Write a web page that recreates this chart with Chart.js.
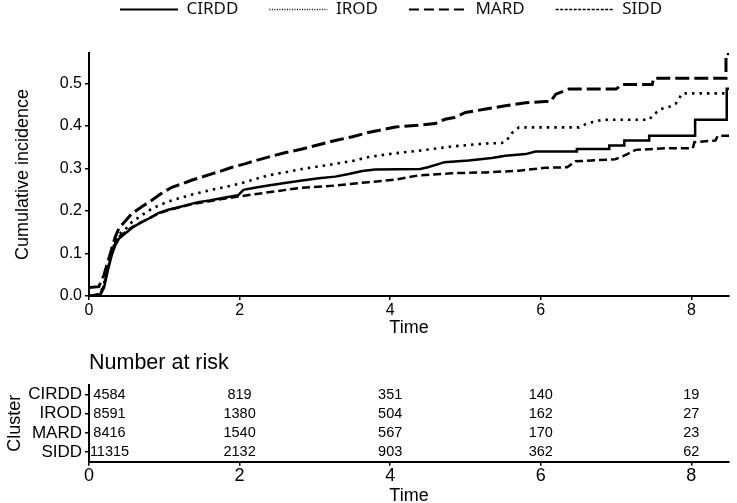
<!DOCTYPE html>
<html lang="en">
<head>
<meta charset="UTF-8">
<title>Cumulative incidence by cluster</title>
<script src="https://cdn.jsdelivr.net/npm/chart.js@4.4.1/dist/chart.umd.min.js"></script>
<style>
  body { margin: 0; background: #fff; }
  #wrap { position: relative; width: 737px; height: 503px; }
  #incChart { position: absolute; left: 0; top: 0; }
  #riskChart { position: absolute; left: 0; top: 340px; }
</style>
</head>
<body>
<div id="wrap">
  <canvas id="incChart" width="737" height="340"></canvas>
  <canvas id="riskChart" width="737" height="163"></canvas>
</div>
<script>
const clusters = ['CIRDD', 'IROD', 'MARD', 'SIDD'];

// cumulative incidence curves
// (repeated times are the corners of the visible steps)
const cirddTime = [0, 0.15, 0.2, 0.25, 0.3, 0.35, 0.4, 0.48, 0.57, 0.66, 0.8, 0.92, 1.05, 1.19, 1.32, 1.45, 1.6, 1.72, 1.94, 1.98, 2.05, 2.2, 2.38, 2.6, 2.83, 3.05, 3.27, 3.45, 3.63, 3.8, 4.4, 4.5, 4.65, 4.72, 5.04, 5.35, 5.53, 5.8, 5.93, 6.48, 6.48, 6.91, 6.91, 7.11, 7.11, 7.44, 7.44, 8.05, 8.05, 8.47, 8.47, 8.5];
const cirddInc = [0, 0.003, 0.02, 0.06, 0.095, 0.12, 0.135, 0.147, 0.16, 0.17, 0.183, 0.195, 0.203, 0.209, 0.215, 0.221, 0.225, 0.229, 0.236, 0.237, 0.25, 0.255, 0.26, 0.266, 0.272, 0.277, 0.281, 0.287, 0.294, 0.298, 0.299, 0.303, 0.311, 0.315, 0.319, 0.325, 0.33, 0.334, 0.34, 0.34, 0.346, 0.346, 0.354, 0.354, 0.366, 0.366, 0.377, 0.377, 0.415, 0.415, 0.488, 0.488];

const irodTime = [0, 0.15, 0.2, 0.25, 0.3, 0.35, 0.4, 0.5, 0.57, 0.7, 0.83, 0.95, 1.1, 1.37, 1.63, 1.9, 2.07, 2.38, 2.6, 2.83, 3.05, 3.27, 3.5, 3.71, 3.94, 4.07, 4.38, 4.82, 5.27, 5.48, 5.55, 5.6, 5.71, 6.51, 6.6, 6.68, 6.82, 7.44, 7.48, 7.59, 7.7, 7.79, 7.88, 8.5];
const irodInc = [0, 0.005, 0.03, 0.07, 0.1, 0.13, 0.145, 0.16, 0.174, 0.19, 0.205, 0.215, 0.225, 0.239, 0.25, 0.26, 0.268, 0.284, 0.291, 0.299, 0.305, 0.311, 0.318, 0.327, 0.333, 0.336, 0.342, 0.352, 0.359, 0.36, 0.366, 0.381, 0.397, 0.397, 0.405, 0.409, 0.415, 0.415, 0.424, 0.44, 0.445, 0.452, 0.477, 0.477];

const mardTime = [0, 0.13, 0.2, 0.25, 0.3, 0.35, 0.4, 0.5, 0.57, 0.7, 0.83, 0.95, 1.1, 1.25, 1.37, 1.5, 1.63, 1.77, 1.9, 2.07, 2.2, 2.38, 2.6, 2.83, 3.05, 3.27, 3.5, 3.71, 3.94, 4.07, 4.38, 4.6, 4.73, 4.85, 5.0, 5.27, 5.53, 5.8, 6.06, 6.13, 6.2, 6.37, 7.0, 7.08, 7.48, 7.5, 8.46, 8.46, 8.5];
const mardInc = [0.02, 0.022, 0.05, 0.08, 0.11, 0.14, 0.16, 0.18, 0.194, 0.21, 0.225, 0.24, 0.256, 0.265, 0.273, 0.28, 0.2875, 0.295, 0.303, 0.311, 0.318, 0.327, 0.337, 0.346, 0.356, 0.366, 0.375, 0.385, 0.393, 0.398, 0.402, 0.406, 0.416, 0.42, 0.432, 0.44, 0.448, 0.455, 0.458, 0.458, 0.475, 0.487, 0.487, 0.498, 0.498, 0.5125, 0.5125, 0.57, 0.57];

const siddTime = [0, 0.15, 0.2, 0.25, 0.3, 0.35, 0.4, 0.48, 0.57, 0.66, 0.8, 0.92, 1.05, 1.19, 1.32, 1.45, 1.6, 1.72, 1.94, 2.38, 2.83, 3.27, 3.71, 4.07, 4.38, 4.82, 5.27, 5.71, 6.06, 6.35, 6.46, 6.99, 7.1, 7.15, 7.26, 7.7, 8.02, 8.04, 8.32, 8.35, 8.5];
const siddInc = [0, 0.005, 0.025, 0.065, 0.1, 0.125, 0.14, 0.15, 0.162, 0.171, 0.183, 0.194, 0.202, 0.208, 0.214, 0.219, 0.223, 0.227, 0.233, 0.244, 0.255, 0.26, 0.268, 0.274, 0.284, 0.289, 0.291, 0.295, 0.302, 0.303, 0.317, 0.322, 0.33, 0.334, 0.344, 0.348, 0.348, 0.362, 0.366, 0.377, 0.377];

// number at risk table
const riskTimes = [0, 2, 4, 6, 8];
const riskCIRDD = [4584, 819, 351, 140, 19];
const riskIROD = [8591, 1380, 504, 162, 27];
const riskMARD = [8416, 1540, 567, 170, 23];
const riskSIDD = [11315, 2132, 903, 362, 62];

const FONT = '"Liberation Sans", Arial, sans-serif';
Chart.defaults.font.family = FONT;
Chart.defaults.color = '#000';

const pts = (t, v) => t.map((x, i) => ({x: x, y: v[i]}));

// line look in the legend differs a bit from the plotted lines
const legendDash = {CIRDD: [], IROD: [1, 1.5], MARD: [10, 5], SIDD: [3, 1.5]};
const legendWidth = {CIRDD: 2, IROD: 1.5, MARD: 2, SIDD: 1.5};

const axisGrid = {drawOnChartArea: false, drawTicks: true, tickLength: 4, color: '#000', lineWidth: 1.5};
const axisBorder = {display: true, color: '#000', width: 2};

const curve = (label, t, v, width, dash) => ({
    label: label,
    data: pts(t, v),
    borderColor: '#000',
    backgroundColor: '#000',
    borderWidth: width,
    borderDash: dash,
    pointRadius: 0,
    tension: 0,
    fill: false
});

const incChart = new Chart('incChart', {
    type: 'line',
    data: {
        datasets: [
            curve('CIRDD', cirddTime, cirddInc, 2.5, []),
            curve('IROD', irodTime, irodInc, 2.6, [2.5, 5]),
            curve('MARD', mardTime, mardInc, 3, [14, 5]),
            curve('SIDD', siddTime, siddInc, 2.5, [8, 4])
        ]
    },
    options: {
        responsive: false,
        animation: false,
        layout: {padding: {top: -30, right: 8, left: 0, bottom: 0}},
        plugins: {
            tooltip: {enabled: false},
            legend: {
                display: true,
                position: 'top',
                align: 'start',
                fullSize: false,
                labels: {
                    usePointStyle: true,
                    pointStyle: 'line',
                    pointStyleWidth: 58,
                    padding: 31,
                    color: '#111',
                    font: {family: '"Noto Sans", sans-serif', size: 17},
                    generateLabels: (chart) => {
                        const items = Chart.defaults.plugins.legend.labels.generateLabels(chart);
                        items.forEach(it => {
                            it.lineDash = legendDash[it.text];
                            it.lineWidth = legendWidth[it.text];
                            it.strokeStyle = '#000';
                        });
                        return items;
                    }
                }
            },
            // empty title used as a gap between legend and plot
            title: {display: true, text: '', weight: 500, font: {size: 10, lineHeight: 1}, padding: {top: 0, bottom: 15}}
        },
        scales: {
            x: {
                type: 'linear',
                min: 0,
                max: 8.5,
                grid: axisGrid,
                border: axisBorder,
                ticks: {stepSize: 2, includeBounds: false, padding: 1, font: {size: 16}, color: '#000'},
                title: {display: true, text: 'Time', font: {size: 18}, color: '#000', padding: {top: 0, bottom: 1}},
                afterFit: (s) => { s.height = 44; }
            },
            y: {
                type: 'linear',
                min: 0,
                max: 0.572,
                grid: axisGrid,
                border: axisBorder,
                ticks: {stepSize: 0.1, includeBounds: false, padding: 3, font: {size: 16}, color: '#000',
                    callback: (v) => v.toFixed(1)},
                title: {display: true, text: 'Cumulative incidence', font: {size: 18}, color: '#000', padding: {top: 12.7, bottom: 0}},
                afterFit: (s) => { s.width = 89; }
            }
        }
    }
});

const riskTable = {
    id: 'riskTable',
    afterDraw(chart) {
        const {ctx, scales: {x, y}} = chart;
        const rows = [riskCIRDD, riskIROD, riskMARD, riskSIDD];
        ctx.save();
        ctx.font = '14.5px ' + FONT;
        ctx.fillStyle = '#000';
        ctx.textAlign = 'center';
        ctx.textBaseline = 'middle';
        rows.forEach((row, r) => {
            const py = y.getPixelForValue(r);
            row.forEach((n, c) => {
                let px = x.getPixelForValue(riskTimes[c]);
                if (c === 0) px += 20.5; // first column is nudged right of the axis
                ctx.fillText(String(n), px, py);
            });
        });
        ctx.restore();
    }
};

const riskChart = new Chart('riskChart', {
    type: 'line',
    data: {datasets: []},
    plugins: [riskTable],
    options: {
        responsive: false,
        animation: false,
        layout: {padding: {top: 0, right: 8, left: 0, bottom: 0}},
        plugins: {
            tooltip: {enabled: false},
            legend: {display: false},
            title: {
                display: true,
                text: 'Number at risk',
                align: 'start',
                fullSize: false,
                color: '#000',
                font: {size: 21.5, weight: 'normal'},
                padding: {top: 10.6, bottom: 8.6}
            }
        },
        scales: {
            x: {
                type: 'linear',
                min: 0,
                max: 8.5,
                grid: axisGrid,
                border: axisBorder,
                ticks: {stepSize: 2, includeBounds: false, padding: 0, font: {size: 18}, color: '#000'},
                title: {display: true, text: 'Time', font: {size: 18}, color: '#000', padding: {top: 0, bottom: -4}},
                afterFit: (s) => { s.height = 41.3; }
            },
            y: {
                type: 'category',
                labels: clusters,
                offset: true,
                grid: axisGrid,
                border: axisBorder,
                ticks: {autoSkip: false, padding: 3, font: {size: 17}, color: '#000'},
                title: {display: true, text: 'Cluster', font: {size: 18}, color: '#000', padding: {top: 4.2, bottom: 0}},
                afterFit: (s) => { s.width = 89; }
            }
        }
    }
});
</script>
</body>
</html>
